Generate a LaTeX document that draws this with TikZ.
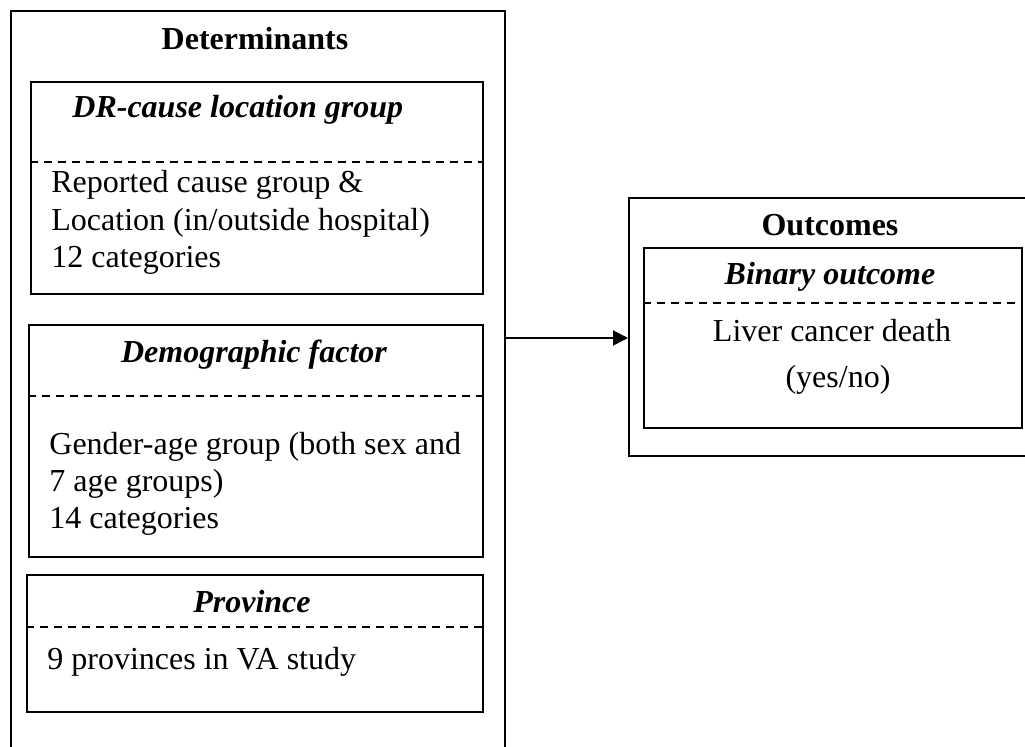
\documentclass[tikz,border=0pt]{standalone}
\usepackage{fontspec}
\setmainfont{Liberation Serif}
\usetikzlibrary{arrows.meta}
\tikzset{
  box/.style={draw=black, line width=1pt, inner sep=0pt, anchor=north west, fill=none},
  sep/.style={draw=black, line width=0.8pt, dash pattern=on 4pt off 3pt},
  txt/.style={inner sep=0pt, anchor=base west, font=\fontsize{16}{18.5}\selectfont},
  ctxt/.style={inner sep=0pt, anchor=base, font=\fontsize{16}{18.5}\selectfont},
  ttl/.style={ctxt, font=\fontsize{16}{18.5}\selectfont\bfseries},
  sub/.style={ctxt, font=\fontsize{16}{18.5}\selectfont\bfseries\itshape},
  link/.style={draw=black, line width=1pt, -{Triangle[length=7.5pt,width=7.5pt]}}
}
\begin{document}
\begin{tikzpicture}[x=0.5pt,y=-0.5pt]
\useasboundingbox (0,0) rectangle (1025,747);
\clip (0,0) rectangle (1025,747);
% Determinants outer box
\node[box, minimum width=247pt, minimum height=385pt] (det) at (10,10) {};
\node[ttl] (dettitle) at (255,50) {Determinants};
% DR-cause location group
\node[box, minimum width=226pt, minimum height=106pt] (dr) at (30,81) {};
\node[sub, anchor=base west] (drtitle) at (72,118) {DR-cause location group};
\coordinate (drsep) at (0,162);
\draw[sep] (dr.west |- drsep) -- (dr.east |- drsep);
\node[txt] (dr1) at (51,193) {Reported cause group \&};
\node[txt] (dr2) at (51,231) {Location (in/outside hospital)};
\node[txt] (dr3) at (51,268) {12 categories};
% Demographic factor
\node[box, minimum width=227pt, minimum height=116pt] (demo) at (28,324) {};
\node[sub] (demotitle) at (254,363) {Demographic factor};
\coordinate (demosep) at (0,396);
\draw[sep] (demo.west |- demosep) -- (demo.east |- demosep);
\node[txt] (demo1) at (49,455) {Gender-age group (both sex and};
\node[txt] (demo2) at (49,492) {7 age groups)};
\node[txt] (demo3) at (49,529) {14 categories};
% Province
\node[box, minimum width=228pt, minimum height=68.5pt] (prov) at (26,574) {};
\node[sub] (provtitle) at (252,613) {Province};
\coordinate (provsep) at (0,627);
\draw[sep] (prov.west |- provsep) -- (prov.east |- provsep);
\node[txt] (prov1) at (47,670) {9 provinces in VA study};
% Outcomes
\node[box, minimum width=204pt, minimum height=129pt] (outc) at (628,197) {};
\node[ttl] (outctitle) at (830,236) {Outcomes};
\node[box, minimum width=189pt, minimum height=90pt] (bin) at (643,247) {};
\node[sub] (bintitle) at (830,285) {Binary outcome};
\coordinate (binsep) at (0,303);
\draw[sep] (bin.west |- binsep) -- (bin.east |- binsep);
\node[ctxt] (bin1) at (832,342) {Liver cancer death};
\node[ctxt] (bin2) at (838,388) {(yes/no)};
% arrow
\coordinate (arr) at (560,338);
\draw[link] (det.east |- arr) -- (outc.west |- arr);
\end{tikzpicture}
\end{document}
